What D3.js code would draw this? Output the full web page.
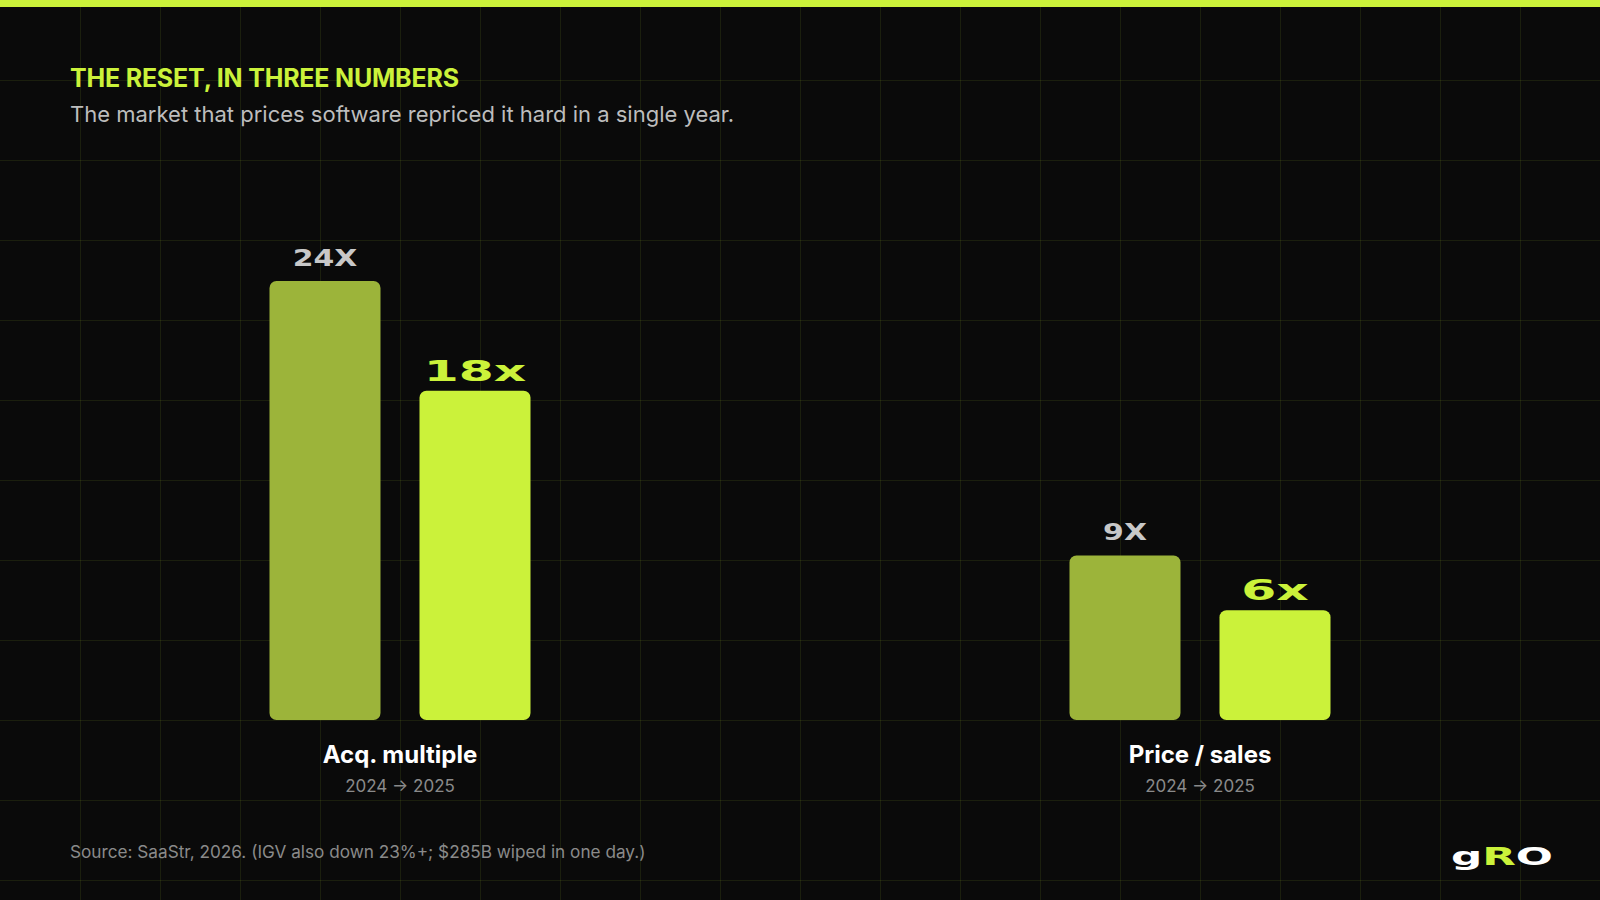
<!DOCTYPE html>
<html>
<head>
<meta charset="utf-8">
<script src="https://cdn.jsdelivr.net/npm/d3@7"></script>
<style>
  html, body { margin: 0; padding: 0; background: #0a0a0a; }
  svg { display: block; }
</style>
</head>
<body>
<svg id="chart" width="1600" height="900"></svg>
<script>
// ---- data ----
const groups = ["Acq. multiple", "Price / sales"];
const groupSubs = ["2024 \u2192 2025", "2024 \u2192 2025"];
const years = ["2024", "2025"];
const values2024 = [24, 9];
const values2025 = [18, 6];
const valueLabels2024 = ["24X", "9X"];
const valueLabels2025 = ["18x", "6x"];
const title = "THE RESET, IN THREE NUMBERS";
const subtitle = "The market that prices software repriced it hard in a single year.";
const source = "Source: SaaStr, 2026. (IGV also down 23%+; $285B wiped in one day.)";

// ---- setup ----
const W = 1600, H = 900;
const lime = "#cbf23a", olive = "#9cb43a";
const svg = d3.select("#chart");
svg.append("rect").attr("width", W).attr("height", H).attr("fill", "#0a0a0a");

// grid
const gridG = svg.append("g").attr("stroke", "rgba(204,242,58,0.09)").attr("stroke-width", 1);
d3.range(80, W, 80).forEach(x => gridG.append("line").attr("x1", x + 0.5).attr("x2", x + 0.5).attr("y1", 0).attr("y2", H));
d3.range(80, H, 80).forEach(y => gridG.append("line").attr("x1", 0).attr("x2", W).attr("y1", y + 0.5).attr("y2", y + 0.5));

// top bar
svg.append("rect").attr("x", 0).attr("y", 0).attr("width", W).attr("height", 7).attr("fill", lime);

// titles
svg.append("text").attr("x", 70).attr("y", 87).text(title)
  .attr("fill", lime).attr("font-family", "Inter").attr("font-weight", 700)
  .attr("font-size", 25).attr("letter-spacing", -0.2);
svg.append("text").attr("x", 70).attr("y", 122).text(subtitle)
  .attr("fill", "#bdbdbd").attr("font-family", "Inter").attr("font-weight", 400)
  .attr("font-size", 22);

// scales
const x0 = d3.scaleBand().domain(groups).range([0, W]);
const x1 = d3.scaleBand().domain(years).range([-130.5, 130.5]).paddingInner(0.26);
const y = d3.scaleLinear().domain([0, 24]).range([720, 281]);

const data = groups.map((g, i) => ({
  group: g, sub: groupSubs[i],
  bars: [
    { year: years[0], value: values2024[i], label: valueLabels2024[i] },
    { year: years[1], value: values2025[i], label: valueLabels2025[i] }
  ]
}));

const gg = svg.selectAll("g.grp").data(data).join("g")
  .attr("class", "grp")
  .attr("transform", d => `translate(${x0(d.group) + x0.bandwidth() / 2},0)`);

gg.selectAll("rect.bar").data(d => d.bars).join("rect")
  .attr("class", "bar")
  .attr("x", d => x1(d.year))
  .attr("width", x1.bandwidth())
  .attr("y", d => y(d.value))
  .attr("height", d => y(0) - y(d.value))
  .attr("rx", 7).attr("ry", 7)
  .attr("fill", d => d.year === "2024" ? olive : lime);

// value labels
gg.selectAll("g.vl").data(d => d.bars).join("g")
  .attr("class", "vl")
  .attr("transform", d => {
    const cx = x1(d.year) + x1.bandwidth() / 2;
    const off = d.year === "2024" ? 15 : 10;
    const sx = d.year === "2024" ? 1.3 : 1.8;
    return `translate(${cx},${y(d.value) - off}) scale(${sx},1)`;
  })
  .append("text")
  .attr("text-anchor", "middle")
  .attr("font-family", "DejaVu Sans")
  .attr("font-weight", 700)
  .attr("font-size", d => d.year === "2024" ? 23 : 28)
  .attr("fill", d => d.year === "2024" ? "#c8c8c8" : lime)
  .text(d => d.label);

// category labels
gg.append("text").attr("text-anchor", "middle").attr("y", 763)
  .attr("font-family", "Inter").attr("font-weight", 700).attr("font-size", 24)
  .attr("fill", "#ffffff").text(d => d.group);
gg.append("text").attr("text-anchor", "middle").attr("y", 792)
  .attr("font-family", "Inter").attr("font-weight", 400).attr("font-size", 17)
  .attr("fill", "#8a8a8a").text(d => d.sub);

// source
svg.append("text").attr("x", 70).attr("y", 858).text(source)
  .attr("fill", "#8a8a8a").attr("font-family", "Inter").attr("font-size", 17.2);

// logo
const logo = svg.append("text").attr("x", 1451).attr("y", 865)
  .attr("font-family", "DejaVu Sans").attr("font-weight", 700).attr("font-size", 24)
  .attr("textLength", 102).attr("lengthAdjust", "spacingAndGlyphs");
logo.append("tspan").attr("fill", "#ffffff").text("g");
logo.append("tspan").attr("fill", lime).text("R");
logo.append("tspan").attr("fill", "#ffffff").text("O");
</script>
</body>
</html>
